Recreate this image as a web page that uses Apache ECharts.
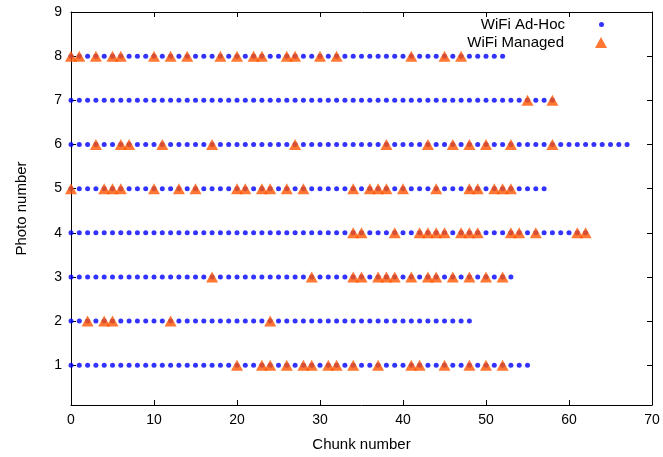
<!DOCTYPE html>
<html>
<head>
<meta charset="utf-8">
<script src="https://cdn.jsdelivr.net/npm/echarts@6/dist/echarts.min.js"></script>
<style>html,body{margin:0;padding:0;background:#fff}#c{width:663px;height:457px}</style>
</head>
<body>
<div id="c"></div>
<script>
// Photo numbers (y) and the last chunk received for each photo over WiFi Ad-Hoc
const photoNumbers = [1, 2, 3, 4, 5, 6, 7, 8];
const adhocLastChunk = [55, 48, 53, 62, 57, 67, 58, 52];
// Chunks received over WiFi Managed, per photo
const managed1 = [20,23,24,26,28,29,31,32,34,37,41,42,45,48,50,52];
const managed2 = [2,4,5,12,24];
const managed3 = [17,29,34,35,37,38,39,41,43,44,46,48,50,52];
const managed4 = [34,35,39,42,43,44,45,47,48,49,53,54,56,61,62];
const managed5 = [0,4,5,6,10,13,15,20,21,23,24,26,28,34,36,37,38,40,44,48,49,51,52,53];
const managed6 = [3,6,7,11,17,27,38,43,46,48,50,53,58];
const managed7 = [55,58];
const managed8 = [0,1,3,5,6,10,12,14,18,20,22,23,26,27,30,32,41,45,47];
const managedChunks = [managed1, managed2, managed3, managed4, managed5, managed6, managed7, managed8];
const xTicks = [0, 10, 20, 30, 40, 50, 60, 70];
const yTicks = [1, 2, 3, 4, 5, 6, 7, 8, 9];

const adhocData = [];
photoNumbers.forEach((p, i) => {
  for (let c = 0; c <= adhocLastChunk[i]; c++) adhocData.push([c, p]);
});
const managedData = [];
photoNumbers.forEach((p, i) => {
  managedChunks[i].forEach(c => managedData.push([c, p]));
});

const FONT = 'Liberation Sans';
const txt = {color: '#000', fontFamily: FONT, fontSize: 14};
const txt15 = {color: '#000', fontFamily: FONT, fontSize: 15};
const axisLine = {show: true, onZero: false, lineStyle: {color: '#000', width: 1}};

const chart = echarts.init(document.getElementById('c'), null, {renderer: 'canvas'});
chart.setOption({
  animation: false,
  backgroundColor: '#fff',
  grid: {left: 71, right: 11, top: 12, bottom: 48, containLabel: false},
  xAxis: [{
    type: 'value', min: 0, max: 70, interval: 10, position: 'bottom',
    axisLine: axisLine,
    axisTick: {show: true, inside: true, length: 5, lineStyle: {color: '#000'}},
    splitLine: {show: false},
    axisLabel: Object.assign({margin: 8, customValues: xTicks}, txt),
    name: 'Chunk number', nameLocation: 'middle', nameGap: 32,
    nameTextStyle: txt15
  }, {
    type: 'value', min: 0, max: 70, interval: 10, position: 'top',
    axisLine: axisLine,
    axisTick: {show: true, inside: true, length: 5, lineStyle: {color: '#000'}},
    splitLine: {show: false},
    axisLabel: {show: false}
  }],
  yAxis: [{
    type: 'value', min: 0.1, max: 9, position: 'left',
    axisLine: axisLine,
    axisTick: {show: true, inside: true, length: 5, customValues: yTicks, lineStyle: {color: '#000'}},
    splitLine: {show: false},
    axisLabel: Object.assign({margin: 9, customValues: yTicks}, txt),
    name: 'Photo number', nameLocation: 'middle', nameGap: 42, nameRotate: 90,
    nameTextStyle: txt15
  }, {
    type: 'value', min: 0.1, max: 9, position: 'right',
    axisLine: axisLine,
    axisTick: {show: true, inside: true, length: 5, customValues: yTicks, lineStyle: {color: '#000'}},
    splitLine: {show: false},
    axisLabel: {show: false}
  }],
  legend: [{
    data: [{name: 'WiFi Ad-Hoc', icon: 'circle'}],
    orient: 'vertical', align: 'right', right: 59, top: 17, padding: 0,
    itemWidth: 5, itemHeight: 5,
    textStyle: Object.assign({padding: [0, 29, 0, 0]}, txt15)
  }, {
    data: [{name: 'WiFi Managed', icon: 'triangle'}],
    orient: 'vertical', align: 'right', right: 56, top: 35, padding: 0,
    itemWidth: 12, itemHeight: 11,
    textStyle: Object.assign({padding: [0, 26, 0, 0]}, txt15)
  }],
  series: [{
    name: 'WiFi Ad-Hoc', type: 'scatter', xAxisIndex: 0, yAxisIndex: 0,
    data: adhocData, symbol: 'circle', symbolSize: 5,
    itemStyle: {color: '#0000ff'}, z: 2
  }, {
    name: 'WiFi Managed', type: 'scatter', xAxisIndex: 0, yAxisIndex: 0,
    data: managedData, symbol: 'triangle', symbolSize: [12, 11],
    itemStyle: {color: '#ff5500'}, z: 3
  }]
});
</script>
</body>
</html>
